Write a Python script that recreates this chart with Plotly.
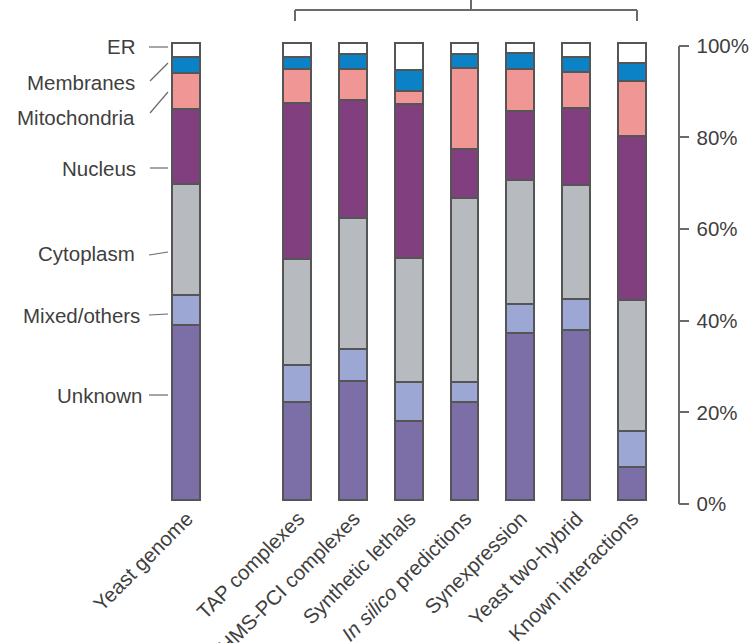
import plotly.graph_objects as go

# Datasets compared (the genome as reference, then the interaction sets)
datasets = ["Yeast genome", "TAP complexes", "HMS-PCI complexes", "Synthetic lethals",
            "<i>In silico</i> predictions", "Synexpression", "Yeast two-hybrid",
            "Known interactions"]

# Share (%) of proteins per localisation, stacked bottom to top
unknown      = [38.3, 21.4, 26.0, 17.3, 21.4, 36.6, 37.1, 7.3]
mixed_others = [6.5, 8.2, 7.0, 8.5, 4.5, 6.3, 6.8, 7.9]
cytoplasm    = [24.4, 23.1, 28.6, 27.2, 40.2, 27.1, 24.9, 28.6]
nucleus      = [16.2, 34.2, 25.9, 33.6, 10.6, 15.1, 17.0, 35.8]
mitochondria = [8.0, 7.3, 6.7, 2.8, 17.7, 9.2, 7.7, 12.0]
membranes    = [3.5, 2.6, 3.3, 4.7, 3.1, 3.4, 3.4, 4.0]
er           = [3.1, 3.2, 2.5, 5.9, 2.5, 2.3, 3.1, 4.4]

# Percentage scale
pct_ticks = [0, 20, 40, 60, 80, 100]
pct_labels = ["0%", "20%", "40%", "60%", "80%", "100%"]

series = [
    ("Unknown", unknown, "#7c6ea7"),
    ("Mixed/others", mixed_others, "#9ca8d3"),
    ("Cytoplasm", cytoplasm, "#b7babf"),
    ("Nucleus", nucleus, "#823f7f"),
    ("Mitochondria", mitochondria, "#f09795"),
    ("Membranes", membranes, "#0b82c6"),
    ("ER", er, "#ffffff"),
]

# Genome bar stands apart from the interaction datasets
positions = [0] + [2 + i for i in range(len(datasets) - 1)]

W, H = 756, 643
TEXT = "#3f3f3f"
LINE = "#6a6a6a"
FONT = "Liberation Sans, Arial, sans-serif"
FS = 20.5


def fx(px):
    return px / W


def fy(py):
    return 1 - py / H


fig = go.Figure()
for name, vals, color in series:
    fig.add_trace(go.Bar(
        x=positions, y=vals, name=name, width=0.5,
        marker=dict(color=color, line=dict(color="#555555", width=1.6)),
        showlegend=False, hoverinfo="name+y",
    ))

# carrier for the percentage scale on the right
fig.add_trace(go.Scatter(x=[positions[-1]], y=[0], yaxis="y2", mode="markers",
                         marker=dict(opacity=0), showlegend=False, hoverinfo="skip"))

# Left-hand labels for the genome bar, with leader lines
label_text = ["ER", "Membranes", "Mitochondria", "Nucleus", "Cytoplasm",
              "Mixed/others", "Unknown"]
label_xy = [(137, 47), (137, 83), (137, 117), (138, 168), (137, 254), (142, 315), (144, 395)]
leader = [((149, 47), (168, 47)), ((150, 81), (168, 63)), ((150, 113), (168, 92)),
          ((150, 168), (168, 168)), ((149, 255), (168, 252)), ((149, 315), (168, 314)),
          ((149, 395), (168, 395))]

annotations = []
shapes = []
for txt, (lx, ly), ((x0, y0), (x1, y1)) in zip(label_text, label_xy, leader):
    annotations.append(dict(text=txt, x=fx(lx), y=fy(ly), xref="paper", yref="paper",
                            xanchor="right", yanchor="middle", showarrow=False,
                            font=dict(family=FONT, size=FS, color=TEXT)))
    shapes.append(dict(type="line", xref="paper", yref="paper",
                       x0=fx(x0), y0=fy(y0), x1=fx(x1), y1=fy(y1),
                       line=dict(color=LINE, width=1.2)))

# Bracket grouping the interaction datasets
for (x0, y0), (x1, y1) in [((295, 10), (637, 10)), ((295, 10), (295, 21)),
                           ((637, 10), (637, 21)), ((471, 0), (471, 10))]:
    shapes.append(dict(type="line", xref="paper", yref="paper",
                       x0=fx(x0), y0=fy(y0), x1=fx(x1), y1=fy(y1),
                       line=dict(color=LINE, width=2)))

unit = 55.7
x_left = -187 / unit
x_right = x_left + 677.7 / unit

# bar scale: 0 at y=501 px, 100 at y=43.3 px; padded by 1 unit so outlines are not clipped
bar_top, bar_bot = 43.3, 501.0
px_per_pct = (bar_bot - bar_top) / 100
pad = 1.0

fig.update_layout(
    width=W, height=H,
    margin=dict(l=0, r=0, t=0, b=0, autoexpand=False),
    paper_bgcolor="white", plot_bgcolor="rgba(0,0,0,0)",
    barmode="stack", bargap=0,
    font=dict(family=FONT, size=FS, color=TEXT),
    xaxis=dict(domain=[0, 677.7 / W], range=[x_left, x_right], automargin=False,
               tickvals=positions, ticktext=datasets, tickangle=-45,
               ticklabelstandoff=-4,
               showline=False, showgrid=False, zeroline=False, ticks="",
               tickfont=dict(family=FONT, size=FS, color=TEXT)),
    yaxis=dict(domain=[fy(bar_bot + pad * px_per_pct), fy(bar_top - pad * px_per_pct)],
               range=[-pad, 100 + pad], visible=False,
               showgrid=False, automargin=False),
    yaxis2=dict(domain=[fy(504), fy(45.7)], range=[0, 100], anchor="x", side="right",
                automargin=False,
                tickvals=pct_ticks, ticktext=pct_labels,
                showline=True, linecolor=LINE, linewidth=1.5,
                ticks="outside", ticklen=10, tickwidth=1.5, tickcolor=LINE,
                ticklabelstandoff=3,
                showgrid=False, zeroline=False,
                tickfont=dict(family=FONT, size=FS, color=TEXT)),
    annotations=annotations, shapes=shapes,
)

fig.write_html("out.html")
